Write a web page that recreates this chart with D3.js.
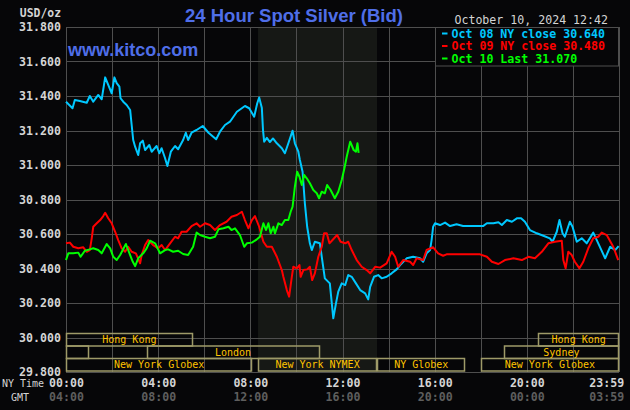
<!DOCTYPE html>
<html>
<head>
<meta charset="utf-8">
<script src="https://cdn.jsdelivr.net/npm/d3@7"></script>
<style>
body { margin: 0; background: #060608; }
svg { display: block; }
</style>
</head>
<body>
<svg id="chart" width="630" height="410"></svg>
<script>
// minutes after 00:00 NY time, price in USD/oz
const oct08 = [[0,31.367],[17,31.329],[23,31.377],[36,31.371],[54,31.361],[62,31.400],[71,31.367],[84,31.406],[93,31.381],[102,31.508],[110,31.464],[119,31.416],[126,31.508],[132,31.474],[139,31.454],[142,31.387],[149,31.367],[158,31.348],[167,31.319],[171,31.232],[175,31.145],[180,31.106],[188,31.058],[193,31.126],[200,31.141],[206,31.087],[217,31.116],[223,31.077],[236,31.110],[243,31.068],[249,31.097],[258,31.039],[264,30.994],[273,31.077],[284,31.110],[292,31.091],[305,31.145],[312,31.187],[318,31.145],[327,31.187],[340,31.203],[356,31.226],[371,31.187],[391,31.149],[401,31.193],[414,31.232],[427,31.251],[445,31.309],[466,31.342],[477,31.329],[490,31.280],[498,31.358],[503,31.391],[510,31.330],[513,31.203],[516,31.135],[523,31.157],[531,31.133],[539,31.154],[549,31.126],[562,31.097],[570,31.068],[579,31.126],[590,31.199],[596,31.126],[605,31.077],[609,31.029],[616,30.961],[622,30.778],[628,30.642],[635,30.546],[640,30.507],[648,30.555],[661,30.546],[666,30.468],[674,30.343],[687,30.314],[696,30.111],[703,30.198],[709,30.266],[718,30.314],[727,30.304],[735,30.362],[744,30.352],[755,30.314],[766,30.275],[779,30.256],[787,30.221],[792,30.294],[802,30.352],[813,30.362],[822,30.343],[835,30.352],[848,30.372],[861,30.395],[870,30.420],[887,30.459],[904,30.468],[922,30.459],[930,30.439],[939,30.488],[948,30.507],[952,30.565],[956,30.642],[961,30.662],[974,30.652],[987,30.666],[1000,30.646],[1017,30.656],[1034,30.646],[1086,30.646],[1096,30.662],[1113,30.662],[1126,30.668],[1135,30.652],[1148,30.681],[1161,30.671],[1174,30.691],[1185,30.691],[1195,30.671],[1208,30.623],[1226,30.604],[1243,30.590],[1260,30.575],[1267,30.555],[1278,30.613],[1285,30.681],[1293,30.604],[1299,30.584],[1312,30.671],[1319,30.642],[1330,30.555],[1343,30.575],[1356,30.546],[1373,30.608],[1386,30.546],[1404,30.459],[1417,30.526],[1430,30.507],[1439,30.530]];

const oct09 = [[0,30.546],[10,30.550],[19,30.526],[32,30.517],[45,30.523],[54,30.497],[62,30.507],[67,30.575],[71,30.642],[80,30.662],[89,30.681],[97,30.704],[102,30.723],[110,30.691],[119,30.662],[128,30.613],[136,30.565],[145,30.517],[154,30.497],[162,30.526],[171,30.497],[182,30.488],[193,30.430],[197,30.478],[206,30.536],[214,30.565],[227,30.536],[240,30.517],[249,30.536],[258,30.507],[271,30.546],[284,30.584],[292,30.575],[301,30.613],[314,30.613],[327,30.646],[340,30.662],[349,30.642],[362,30.662],[375,30.652],[388,30.623],[401,30.652],[418,30.671],[431,30.700],[445,30.710],[458,30.729],[466,30.681],[475,30.633],[484,30.681],[492,30.704],[503,30.642],[514,30.555],[523,30.526],[536,30.526],[549,30.468],[562,30.391],[566,30.352],[575,30.275],[581,30.237],[588,30.352],[592,30.410],[601,30.401],[608,30.420],[611,30.352],[618,30.391],[628,30.395],[635,30.410],[641,30.333],[648,30.372],[657,30.468],[666,30.526],[672,30.604],[679,30.604],[686,30.546],[694,30.565],[706,30.594],[715,30.555],[727,30.546],[735,30.555],[744,30.507],[757,30.449],[770,30.410],[783,30.391],[792,30.372],[805,30.410],[818,30.405],[835,30.430],[848,30.497],[857,30.468],[865,30.410],[878,30.449],[896,30.439],[904,30.420],[913,30.459],[930,30.449],[939,30.507],[956,30.523],[969,30.488],[982,30.474],[991,30.482],[1078,30.482],[1096,30.468],[1109,30.439],[1126,30.426],[1143,30.449],[1165,30.459],[1187,30.449],[1204,30.468],[1221,30.459],[1239,30.497],[1256,30.546],[1273,30.555],[1291,30.561],[1295,30.449],[1301,30.401],[1308,30.497],[1317,30.478],[1325,30.439],[1337,30.401],[1347,30.439],[1360,30.517],[1373,30.575],[1386,30.584],[1395,30.608],[1408,30.594],[1425,30.526],[1438,30.449]];

const oct10 = [[0,30.449],[6,30.488],[19,30.488],[32,30.492],[38,30.468],[49,30.503],[62,30.511],[71,30.517],[84,30.507],[93,30.488],[106,30.542],[115,30.517],[123,30.468],[132,30.449],[141,30.478],[156,30.542],[167,30.478],[174,30.439],[180,30.414],[188,30.459],[201,30.488],[210,30.517],[219,30.561],[232,30.546],[245,30.488],[258,30.507],[266,30.511],[279,30.497],[292,30.503],[305,30.484],[318,30.478],[331,30.526],[340,30.608],[349,30.594],[362,30.584],[375,30.575],[388,30.584],[397,30.627],[410,30.633],[423,30.642],[431,30.623],[440,30.633],[453,30.594],[464,30.526],[471,30.546],[484,30.550],[497,30.569],[505,30.584],[514,30.662],[521,30.623],[527,30.662],[533,30.604],[540,30.642],[544,30.604],[553,30.662],[562,30.652],[570,30.681],[579,30.681],[585,30.729],[590,30.758],[596,30.874],[602,30.961],[608,30.932],[614,30.884],[620,30.942],[627,30.923],[635,30.894],[644,30.855],[653,30.836],[659,30.807],[666,30.845],[674,30.836],[680,30.884],[689,30.855],[700,30.807],[709,30.845],[718,30.913],[725,30.981],[731,31.048],[740,31.135],[749,31.087],[755,31.077],[759,31.126],[762,31.070]];

const seriesList = [oct08, oct09, oct10];
const seriesColors = ["#00c8ff", "#ff0000", "#00ff00"];
const legendLabels = ["Oct 08 NY close 30.640", "Oct 09 NY close 30.480", "Oct 10 Last 31.070"];

const yTicks = [29.8, 30.0, 30.2, 30.4, 30.6, 30.8, 31.0, 31.2, 31.4, 31.6, 31.8];
const xTicks = [0, 240, 480, 720, 960, 1200, 1439];
const nyLabels = ["00:00", "04:00", "08:00", "12:00", "16:00", "20:00", "23:59"];
const gmtLabels = ["04:00", "08:00", "12:00", "16:00", "20:00", "00:00", "03:59"];

// market sessions (minutes NY time), row 0 = top
const sessionNames = ["Hong Kong", "", "London", "New York Globex", "New York NYMEX", "NY Globex", "New York Globex", "Sydney", "Hong Kong"];
const sessionRows = [0, 1, 1, 2, 2, 2, 2, 1, 0];
const sessionStart = [0, 0, 210, 0, 500, 810, 1080, 1140, 1230];
const sessionEnd = [330, 60, 660, 485, 810, 1040, 1440, 1440, 1440];
const nymexHours = [500, 810];

const margin = {top: 27, right: 11, bottom: 38, left: 66};
const W = 630, H = 410;
const mono = "'DejaVu Sans Mono', monospace";

const svg = d3.select('#chart');

const x = d3.scaleLinear().domain([0, 1440]).range([margin.left, W - margin.right]);
const y = d3.scaleLinear().domain([29.8, 31.8]).range([H - margin.bottom, margin.top]);

svg.append('rect').attr('width', W).attr('height', H).attr('fill', '#060608');

// NYMEX shaded period
svg.append('rect')
    .attr('x', x(nymexHours[0])).attr('y', y(31.8))
    .attr('width', x(nymexHours[1]) - x(nymexHours[0]))
    .attr('height', y(29.8) - y(31.8))
    .attr('fill', '#161815');

// grid
let grid = svg.append('g').attr('stroke', '#4e4e4e').attr('stroke-width', 1);
grid.selectAll('.h').data(yTicks).join('line')
    .attr('x1', x(0)).attr('x2', x(1440))
    .attr('y1', d => Math.round(y(d)) + 0.5).attr('y2', d => Math.round(y(d)) + 0.5);
grid.selectAll('.v').data(d3.range(0, 1441, 120)).join('line')
    .attr('x1', d => Math.round(x(d)) + 0.5).attr('x2', d => Math.round(x(d)) + 0.5)
    .attr('y1', y(31.8)).attr('y2', y(29.8));

// market session boxes
const rowTop = [333.5, 346, 358.5], rowH = 12.5;
let sessions = svg.append('g');
sessionNames.forEach((name, i) => {
    let x0 = x(sessionStart[i]), x1 = x(sessionEnd[i]);
    let r = sessionRows[i];
    sessions.append('rect')
        .attr('x', Math.round(x0) + 0.5).attr('y', rowTop[r])
        .attr('width', Math.round(x1 - x0) - 1).attr('height', rowH)
        .attr('fill', 'none').attr('stroke', '#9e9a68').attr('stroke-width', 1.5);
    if (name) {
        sessions.append('text')
            .attr('x', (x0 + x1) / 2).attr('y', rowTop[r] + rowH / 2 + 3.5)
            .attr('text-anchor', 'middle')
            .attr('font-family', mono).attr('font-size', '10px')
            .attr('fill', '#ffc400')
            .text(name);
    }
});

// price lines
const line = d3.line().x(d => x(d[0])).y(d => y(d[1]));
svg.append('g').selectAll('path').data(seriesList).join('path')
    .attr('d', line)
    .attr('fill', 'none')
    .attr('stroke', (d, i) => seriesColors[i])
    .attr('stroke-width', 2)
    .attr('stroke-linejoin', 'round');

// y axis
svg.append('g')
    .attr('transform', `translate(${margin.left},0)`)
    .call(d3.axisLeft(y).tickValues(yTicks).tickFormat(d3.format('.3f')).tickSize(0).tickPadding(5))
    .call(g => g.select('.domain').remove())
    .call(g => g.selectAll('text')
        .attr('font-family', mono).attr('font-size', '11.6px').attr('font-weight', 'bold')
        .attr('fill', '#d4d4d4'));

// x axes: NY time and GMT
svg.append('g')
    .attr('transform', `translate(0,${H - margin.bottom})`)
    .call(d3.axisBottom(x).tickValues(xTicks).tickFormat((d, i) => nyLabels[i]).tickSize(0).tickPadding(7))
    .call(g => g.select('.domain').remove())
    .call(g => g.selectAll('text')
        .attr('font-family', mono).attr('font-size', '11.6px').attr('font-weight', 'bold')
        .attr('fill', '#d4d4d4'))
    .call(g => g.select('.tick:last-of-type text').attr('text-anchor', 'end').attr('x', 5));

svg.append('g')
    .attr('transform', `translate(0,${H - margin.bottom})`)
    .call(d3.axisBottom(x).tickValues(xTicks).tickFormat((d, i) => gmtLabels[i]).tickSize(0).tickPadding(21))
    .call(g => g.select('.domain').remove())
    .call(g => g.selectAll('text')
        .attr('font-family', mono).attr('font-size', '11.6px').attr('font-weight', 'bold')
        .attr('fill', '#5e5e5e'))
    .call(g => g.select('.tick:last-of-type text').attr('text-anchor', 'end').attr('x', 5));

svg.append('text').attr('x', 2).attr('y', 387)
    .attr('font-family', mono).attr('font-size', '10px').attr('fill', '#d4d4d4')
    .text('NY Time');
svg.append('text').attr('x', 11).attr('y', 401)
    .attr('font-family', mono).attr('font-size', '10px').attr('fill', '#d4d4d4')
    .text('GMT');

// headings
svg.append('text').attr('x', 61).attr('y', 16.5).attr('text-anchor', 'end')
    .attr('font-family', mono).attr('font-size', '11.4px').attr('font-weight', 'bold')
    .attr('fill', '#d4d4d4').text('USD/oz');

svg.append('text').attr('x', 294).attr('y', 21.5).attr('text-anchor', 'middle')
    .attr('font-family', "'Liberation Sans', Arial, sans-serif").attr('font-size', '18.5px')
    .attr('font-weight', 'bold').attr('fill', '#4f6ee8')
    .text('24 Hour Spot Silver (Bid)');

svg.append('text').attr('x', 68).attr('y', 55.5)
    .attr('font-family', "'Liberation Sans', Arial, sans-serif").attr('font-size', '18px')
    .attr('font-weight', 'bold').attr('fill', '#4f6ee8')
    .text('www.kitco.com');

svg.append('text').attr('x', 608).attr('y', 24).attr('text-anchor', 'end')
    .attr('font-family', mono).attr('font-size', '11.6px')
    .attr('fill', '#d4d4d4').text('October 10, 2024 12:42');

// legend
let legend = svg.append('g');
legend.append('rect')
    .attr('x', 435.5).attr('y', 27.5).attr('width', 183).attr('height', 38.5)
    .attr('fill', '#060608').attr('stroke', '#4e4e4e');
legendLabels.forEach((label, i) => {
    let by = 37.5 + i * 12.5;
    legend.append('rect').attr('x', 442).attr('y', by - 5).attr('width', 5.5).attr('height', 2)
        .attr('fill', seriesColors[i]);
    legend.append('text').attr('x', 451.5).attr('y', by)
        .attr('font-family', mono).attr('font-size', '11.6px').attr('font-weight', 'bold')
        .attr('fill', seriesColors[i]).text(label);
});
</script>
</body>
</html>
